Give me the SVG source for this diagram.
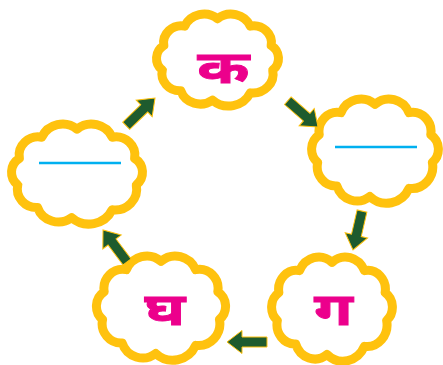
<svg xmlns="http://www.w3.org/2000/svg" xmlns:xlink="http://www.w3.org/1999/xlink" width="443" height="365" viewBox="0 0 443 365">
<style>
.cloud{fill:#ffffff;stroke:#FFC20E;stroke-width:9;stroke-linejoin:round}
.letter{font-family:"Noto Sans","Noto Sans Devanagari",sans-serif;font-weight:bold;font-size:45px;fill:#EC008C;stroke:#EC008C;stroke-width:0.8;text-anchor:middle}
.blank{stroke:#00B0F0;stroke-width:2.5}
.arrow{fill:#1E5B2E;stroke:#FFC20E;stroke-width:1}
</style>
<defs>
<path id="cloudshape" vector-effect="non-scaling-stroke" d="M-54.1,10.9 A15.7,15.7 0 0 1 -52.6,-14.4 A17.4,17.4 0 0 1 -32.1,-34.4 A20.6,20.6 0 0 1 0,-42 A20.6,20.6 0 0 1 32.1,-34.4 A17.4,17.4 0 0 1 52.6,-14.4 A15.7,15.7 0 0 1 54.1,10.9 A19.8,19.8 0 0 1 32.1,34.4 A23.4,23.4 0 0 1 -4.9,41.8 A20,20 0 0 1 -36,32.2 A17.6,17.6 0 0 1 -54.1,10.9 Z"/>
<path id="arrowshape" d="M-40,-5 L-15,-5 L-15,-11.5 L0,0 L-15,11.5 L-15,5 L-40,5 Z"/>
</defs>
<g id="node-ka">
<use xlink:href="#cloudshape" class="cloud" transform="translate(217.5,59.5) scale(1.02,0.97)"/>
<text class="letter" transform="translate(223.5,83) scale(1.4,1)">क</text>
</g>
<g id="node-blank-right">
<use xlink:href="#cloudshape" class="cloud" transform="translate(375,150.5) scale(1.06,1.1)"/>
<line class="blank" x1="335" y1="147" x2="417" y2="147"/>
</g>
<g id="node-ga">
<use xlink:href="#cloudshape" class="cloud" transform="translate(332,308.5) scale(1.01,1.1)"/>
<text class="letter" transform="translate(333.5,325) scale(1.4,1)">ग</text>
</g>
<g id="node-gha">
<use xlink:href="#cloudshape" class="cloud" transform="translate(161,307.5) scale(1.08,1.1)"/>
<text class="letter" transform="translate(165,325) scale(1.4,1)">घ</text>
</g>
<g id="node-blank-left">
<use xlink:href="#cloudshape" class="cloud" transform="translate(77,173.5) scale(1.095,1.055)"/>
<line class="blank" x1="39" y1="163" x2="121" y2="163"/>
</g>
<g id="connectors">
<use xlink:href="#arrowshape" class="arrow" transform="translate(155,98) rotate(-44)"/>
<use xlink:href="#arrowshape" class="arrow" transform="translate(318,127) rotate(41)"/>
<use xlink:href="#arrowshape" class="arrow" transform="translate(353,250) rotate(103)"/>
<use xlink:href="#arrowshape" class="arrow" transform="translate(227,342) rotate(180)"/>
<use xlink:href="#arrowshape" class="arrow" transform="translate(103,230) rotate(233)"/>
</g>
</svg>
